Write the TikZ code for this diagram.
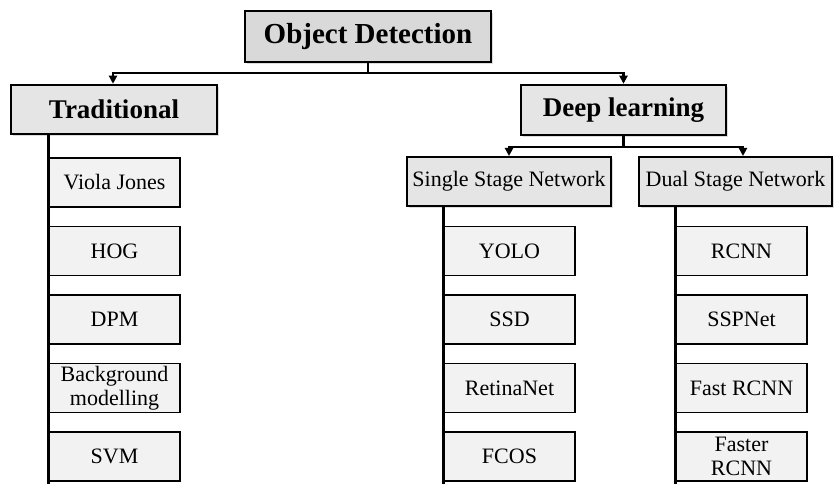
\documentclass[tikz,border=0pt]{standalone}
\usepackage{fontspec}
\setmainfont{Liberation Serif}
\usetikzlibrary{arrows.meta,shadows}
\begin{document}
\begin{tikzpicture}[
  x=1pt, y=-1pt,
  headbox/.style={draw, line width=2.5pt, fill=gray!20, font=\fontsize{27}{29}\selectfont\bfseries,
    inner sep=0pt, drop shadow={shadow xshift=2pt, shadow yshift=-2pt, fill=gray!55}},
  subbox/.style={draw, line width=2pt, fill=gray!20, font=\fontsize{22}{24}\selectfont,
    inner sep=0pt, minimum height=49pt, drop shadow={shadow xshift=2pt, shadow yshift=-2pt, fill=gray!55}},
  leaf/.style={draw, line width=1.4pt, fill=gray!10, font=\fontsize{22}{24}\selectfont,
    inner sep=0pt, minimum width=131pt, minimum height=49pt, align=center},
  trunk/.style={line width=2.5pt},
  arr/.style={line width=2.2pt, -{Triangle[length=8pt,width=8pt]}}
]
  \useasboundingbox (0,0) rectangle (836,484);

  % top levels
  \node[headbox, minimum width=246pt, minimum height=51pt, fill=gray!30,
    font=\fontsize{29}{31}\selectfont\bfseries] (od) at (368,36.5) {Object Detection};
  \node[headbox, minimum width=206pt, minimum height=49pt] (trad) at (114,109.5) {Traditional};
  \node[headbox, minimum width=205pt, minimum height=50pt] (deep) at (623.5,110) {Deep learning};
  \node[subbox, minimum width=204pt] (single) at (509,181.5) {Single Stage Network};
  \node[subbox, minimum width=193pt] (dual) at (735.5,181.5) {Dual Stage Network};

  % leaves
  \foreach \name [count=\i from 0] in {Viola Jones, HOG, DPM, Background\\modelling, SVM}
    \node[leaf] (t\i) at (114.5,182.5+68.5*\i) {\name};
  \foreach \name [count=\i from 1] in {YOLO, SSD, RetinaNet, FCOS}
    \node[leaf] (s\i) at (509.5,182.5+68.5*\i) {\name};
  \foreach \name [count=\i from 1] in {RCNN, SSPNet, Fast RCNN, Faster\\RCNN}
    \node[leaf] (d\i) at (741.5,182.5+68.5*\i) {\name};

  % connectors
  \draw[arr] (od.south) -- ++(0,10) -| ([xshift=-1pt]trad.north);
  \draw[arr] (od.south) -- ++(0,10) -| (deep.north);
  \draw[arr] (deep.south) -- ++(0,11) -| (single.north);
  \draw[arr] (deep.south) -- ++(0,11) -| ([xshift=7.5pt]dual.north);

  \coordinate (bot) at (0,484);
  \draw[trunk] (t0.west |- trad.south) -- (t0.west |- bot);
  \draw[trunk] (s1.west |- single.south) -- (s1.west |- bot);
  \draw[trunk] (d1.west |- dual.south) -- (d1.west |- bot);
\end{tikzpicture}
\end{document}
